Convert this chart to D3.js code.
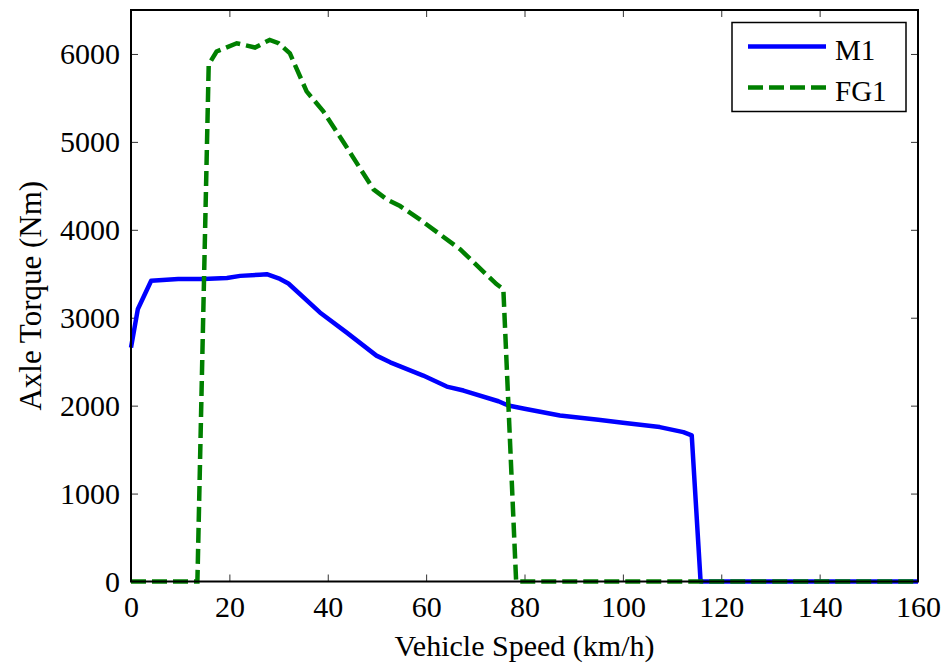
<!DOCTYPE html>
<html>
<head>
<meta charset="utf-8">
<script src="https://cdn.jsdelivr.net/npm/d3@7"></script>
<style>
  html, body { margin: 0; padding: 0; background: #fff; }
  svg { display: block; font-family: "Liberation Serif", "Times New Roman", serif; }
</style>
</head>
<body>
<svg id="chart" width="947" height="666"></svg>
<script>
const speedM1 = [0, 1.4, 4.1, 9.6, 14.6, 19.5, 22.2, 26.2, 27.6, 30.3, 32.0, 38.4, 43.8, 49.9, 52.7, 59.4, 64.2, 67.6, 74.7, 76.7, 80, 87.2, 95, 100, 107.5, 112.3, 114, 115.8, 160];
const torqueM1 = [2660, 3100, 3420, 3440, 3440, 3453, 3476, 3490, 3495, 3441, 3389, 3060, 2833, 2569, 2493, 2342, 2217, 2172, 2050, 2002, 1965, 1888, 1840, 1805, 1756, 1699, 1662, 0, 0];
const speedFG1 = [0, 13.5, 15.8, 17.4, 21.5, 25.2, 28.2, 30, 32.3, 35.7, 39.1, 43.5, 49.3, 52, 54.7, 58.7, 66.9, 74.3, 75.7, 78.3, 160];
const torqueFG1 = [0, 0, 5880, 6028, 6122, 6073, 6160, 6122, 6008, 5574, 5348, 4970, 4460, 4346, 4270, 4119, 3779, 3382, 3325, 0, 0];
const xTicks = [0, 20, 40, 60, 80, 100, 120, 140, 160];
const yTicks = [0, 1000, 2000, 3000, 4000, 5000, 6000];
const seriesNames = ["M1", "FG1"];
const seriesColors = ["#0000ff", "#008000"];

(function () {
const svg = d3.select("#chart");
const pL = 131, pT = 10, pR = 918, pB = 581.5;
const x = d3.scaleLinear().domain([0, 160]).range([pL, pR]);
const y = d3.scaleLinear().domain([0, 6500]).range([pB, pT]);

const fontSize = 30;
const fmt = d3.format("d");

const tickLen = 7;
const axB = d3.axisBottom(x).tickValues(xTicks).tickFormat(fmt).tickSizeInner(-tickLen).tickSizeOuter(0).tickPadding(14);
const axT = d3.axisTop(x).tickValues(xTicks).tickSizeInner(-tickLen).tickSizeOuter(0).tickFormat("");
const axL = d3.axisLeft(y).tickValues(yTicks).tickFormat(fmt).tickSizeInner(-tickLen).tickSizeOuter(0).tickPadding(11);
const axR = d3.axisRight(y).tickValues(yTicks).tickSizeInner(-tickLen).tickSizeOuter(0).tickFormat("");

function style(g) {
  g.select(".domain").remove();
  g.selectAll(".tick line").attr("stroke", "#333").attr("stroke-width", 1);
  g.selectAll(".tick text").attr("fill", "#000").style("font-size", fontSize + "px")
    .style("font-family", '"Liberation Serif", "Times New Roman", serif');
}
svg.append("g").attr("transform", `translate(0,${pB})`).call(axB).call(style);
svg.append("g").attr("transform", `translate(0,${pT})`).call(axT).call(style);
svg.append("g").attr("transform", `translate(${pL},0)`).call(axL).call(style);
svg.append("g").attr("transform", `translate(${pR},0)`).call(axR).call(style);

const lineGen = d3.line().x(d => x(d[0])).y(d => y(d[1]));
const dM1 = speedM1.map((s, i) => [s, torqueM1[i]]);
const dFG1 = speedFG1.map((s, i) => [s, torqueFG1[i]]);

const plot = svg.append("g");
plot.append("path").datum(dM1).attr("d", lineGen)
  .attr("fill", "none").attr("stroke", seriesColors[0]).attr("stroke-width", 4.5)
  .attr("stroke-linejoin", "round");
plot.append("path").datum(dFG1).attr("d", lineGen)
  .attr("fill", "none").attr("stroke", seriesColors[1]).attr("stroke-width", 4.5)
  .attr("stroke-dasharray", "15,6");

svg.append("rect").attr("x", pL).attr("y", pT)
  .attr("width", pR - pL).attr("height", pB - pT)
  .attr("fill", "none").attr("stroke", "#000").attr("stroke-width", 2);

svg.append("text").attr("x", (pL + pR) / 2).attr("y", 656)
  .attr("text-anchor", "middle").style("font-size", "30px").text("Vehicle Speed (km/h)");
svg.append("text").attr("transform", `translate(41,${(pT + pB) / 2}) rotate(-90)`)
  .attr("text-anchor", "middle").style("font-size", "31px").text("Axle Torque (Nm)");

const lg = svg.append("g");
lg.append("rect").attr("x", 732).attr("y", 22.5).attr("width", 174).attr("height", 89)
  .attr("fill", "#fff").attr("stroke", "#000").attr("stroke-width", 1.5);
const lgY = [46.5, 87.5];
seriesNames.forEach((name, i) => {
  lg.append("line").attr("x1", 748).attr("x2", 826).attr("y1", lgY[i]).attr("y2", lgY[i])
    .attr("stroke", seriesColors[i]).attr("stroke-width", 4.5)
    .attr("stroke-dasharray", i === 1 ? "15,6" : null);
  lg.append("text").attr("x", 835).attr("y", lgY[i] + 13).style("font-size", "29px").text(name);
});
})();
</script>
</body>
</html>
